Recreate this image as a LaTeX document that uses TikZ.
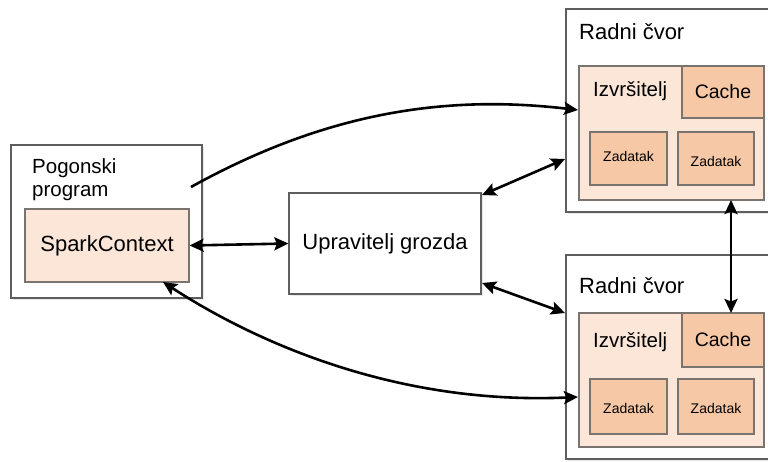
\documentclass[tikz,border=0pt]{standalone}
\usepackage{fontspec}
\setmainfont{Liberation Sans}
\usetikzlibrary{arrows.meta,shadows}
\definecolor{bordergray}{HTML}{5E5E5E}
\definecolor{innergray}{HTML}{7A7470}
\definecolor{lightpeach}{HTML}{FCE6D8}
\definecolor{peach}{HTML}{F7C8A6}
\tikzset{
  box/.style={draw=bordergray, line width=1.3pt, fill=white, rectangle, inner sep=0pt,
    drop shadow={shadow xshift=1.5pt, shadow yshift=-1.5pt, opacity=0.18}},
  execbox/.style={draw=innergray, line width=1.1pt, fill=lightpeach, rectangle, inner sep=0pt},
  darkbox/.style={draw=innergray, line width=1.1pt, fill=peach, rectangle, inner sep=0pt},
  lbl/.style={inner sep=0pt, anchor=base west},
  ztext/.style={inner sep=0pt, font=\fontsize{14}{17}\selectfont},
  conn/.style={line width=2.6pt, -{Stealth[length=14pt,width=13pt,inset=2.5pt]}},
  dconn/.style={line width=2.6pt, {Stealth[length=14pt,width=13pt,inset=2.5pt]}-{Stealth[length=14pt,width=13pt,inset=2.5pt]}},
}
\begin{document}
\begin{tikzpicture}[x=1pt,y=-1pt]
\useasboundingbox (0,0) rectangle (768,461);
% driver
\node[box, minimum width=191pt, minimum height=153pt] (driver) at (106.5,221.5) {};
\node[lbl, font=\fontsize{20.5}{24}\selectfont] (pog) at (32,173) {Pogonski};
\node[lbl, font=\fontsize{20.5}{24}\selectfont] (prog) at (32,196) {program};
\node[execbox, minimum width=164pt, minimum height=73pt, font=\fontsize{22}{26}\selectfont] (sc) at (107,245.5) {SparkContext};
% cluster manager
\node[box, minimum width=192pt, minimum height=101pt, font=\fontsize{22}{26}\selectfont] (cm) at (385,243.5) {Upravitelj grozda};
% worker 1
\node[box, minimum width=209pt, minimum height=203pt] (w1) at (670.5,110.5) {};
\node[lbl, font=\fontsize{22}{26}\selectfont] (w1t) at (579,39) {Radni čvor};
\node[execbox, minimum width=185pt, minimum height=134pt] (e1) at (671.5,133) {};
\node[lbl, font=\fontsize{20.5}{24}\selectfont] (e1t) at (593,96) {Izvršitelj};
\node[darkbox, minimum width=82pt, minimum height=52pt, font=\fontsize{19.5}{23}\selectfont] (c1) at (723,92) {Cache};
\node[darkbox, minimum width=77pt, minimum height=53pt] (z11) at (628.5,158.5) {};
\node[ztext] (z11t) at (628.5,156) {Zadatak};
\node[darkbox, minimum width=76pt, minimum height=53pt] (z12) at (716,158.5) {};
\node[ztext] (z12t) at (716,161.5) {Zadatak};
% worker 2
\node[box, minimum width=209pt, minimum height=204pt] (w2) at (670.5,357) {};
\node[lbl, font=\fontsize{22}{26}\selectfont] (w2t) at (579,293) {Radni čvor};
\node[execbox, minimum width=185pt, minimum height=134pt] (e2) at (671.5,380) {};
\node[lbl, font=\fontsize{20.5}{24}\selectfont] (e2t) at (593,347) {Izvršitelj};
\node[darkbox, minimum width=82pt, minimum height=54pt, font=\fontsize{19.5}{23}\selectfont] (c2) at (723,340) {Cache};
\node[darkbox, minimum width=77pt, minimum height=55pt] (z21) at (628.5,406.5) {};
\node[ztext] (z21t) at (628.5,408) {Zadatak};
\node[darkbox, minimum width=76pt, minimum height=55pt] (z22) at (716,406.5) {};
\node[ztext] (z22t) at (716,408) {Zadatak};
% connector endpoints
\coordinate (dstart) at (191,187);
\coordinate (e1in) at (578,110);
\coordinate (scbot) at (163,282);
\coordinate (e2in) at (578,397);
\coordinate (cmne) at (482,195);
\coordinate (w1w) at (565,159);
\coordinate (cmse) at (482,283);
\coordinate (w2w) at (565,313);
\coordinate (e1s) at (731,200);
\coordinate (c2n) at (731,313);
% connectors
\draw[conn] (dstart) .. controls (330,110) and (450,95) .. (e1in);
\draw[dconn] (scbot) .. controls (260,345) and (400,405) .. (e2in);
\draw[dconn] (sc.east) -- (cm.west);
\draw[dconn] (cmne) -- (w1w);
\draw[dconn] (cmse) -- (w2w);
\draw[dconn] (e1s) -- (c2n);
\end{tikzpicture}
\end{document}
